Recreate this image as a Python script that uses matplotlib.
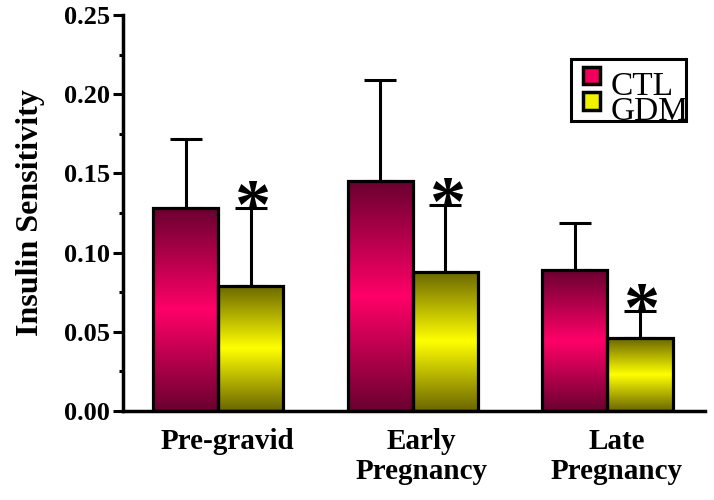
import numpy as np
import matplotlib
matplotlib.use("Agg")
import matplotlib.pyplot as plt
import matplotlib.transforms as mtransforms
from matplotlib.colors import LinearSegmentedColormap
from matplotlib.patches import Rectangle

# data
groups = ["Pre-gravid", "Early\nPregnancy", "Late\nPregnancy"]
ctl = [0.128, 0.145, 0.089]
ctl_err = [0.044, 0.064, 0.030]
gdm = [0.079, 0.088, 0.046]
gdm_err = [0.049, 0.042, 0.017]
series = ["CTL", "GDM"]

plt.rcParams['font.family'] = ['Liberation Serif', 'DejaVu Serif']

ctl_cmap = LinearSegmentedColormap.from_list("ctl", ["#6a0030", "#ff0068", "#6a0030"])
gdm_cmap = LinearSegmentedColormap.from_list("gdm", ["#6a6600", "#ffff00", "#6a6600"])

fig = plt.figure(figsize=(7.14, 5.0), dpi=100)
ax = fig.add_axes([0.172, 0.178, 0.815, 0.792])

x = np.arange(len(groups))
w = 0.335

b1 = ax.bar(x - w / 2, ctl, w, edgecolor="black", linewidth=2.3, facecolor="none", zorder=3)
b2 = ax.bar(x + w / 2, gdm, w, edgecolor="black", linewidth=2.3, facecolor="none", zorder=3)

# error bars, upper side only
ax.errorbar(x - w / 2, ctl, yerr=[np.zeros(3), ctl_err], fmt="none", ecolor="black",
            elinewidth=2.2, capsize=11.5, capthick=2.2, zorder=2)
ax.errorbar(x + w / 2, gdm, yerr=[np.zeros(3), gdm_err], fmt="none", ecolor="black",
            elinewidth=2.2, capsize=11.5, capthick=2.2, zorder=2)

# vertical gradient inside each bar
grad = np.linspace(0, 1, 256).reshape(-1, 1)
for bars, cmap in [(b1, ctl_cmap), (b2, gdm_cmap)]:
    for p in bars:
        x0, y0 = p.get_x(), p.get_y()
        im = ax.imshow(grad, cmap=cmap, aspect="auto", origin="lower",
                       extent=[x0, x0 + p.get_width(), y0, y0 + p.get_height()], zorder=2.5)
        im.set_clip_path(p)

# significance stars
for xi, v, e in zip(x + w / 2, gdm, gdm_err):
    ax.text(xi + 0.012, v + e - 0.022, "*", ha="center", va="bottom", fontsize=52,
            fontweight="bold", zorder=4)

ax.set_xlim(-0.49, 2.5)
ax.set_ylim(0, 0.25)
ax.set_yticks(np.arange(0, 0.26, 0.05))
ax.set_yticklabels(["%.2f" % t for t in np.arange(0, 0.26, 0.05)])
ax.set_yticks(np.arange(0.025, 0.25, 0.05), minor=True)
ax.tick_params(axis="y", which="major", length=7, width=2.2, labelsize=19, pad=2)
ax.tick_params(axis="y", which="minor", length=3, width=2.2)
for lab in ax.get_yticklabels():
    lab.set_fontweight("bold")

ax.set_xticks(x)
ax.set_xticklabels(groups, fontsize=21, fontweight="bold", linespacing=1.15, va="top")
ax.tick_params(axis="x", length=0, pad=12)
shift = mtransforms.ScaledTranslation(9 / 100, 0, fig.dpi_scale_trans)
for lab in ax.get_xticklabels():
    lab.set_transform(lab.get_transform() + shift)

ax.spines["top"].set_visible(False)
ax.spines["right"].set_visible(False)
ax.spines["left"].set_linewidth(2.5)
ax.spines["bottom"].set_linewidth(2.5)

ax.set_ylabel("Insulin Sensitivity", fontsize=23, fontweight="bold", labelpad=14)

# legend box drawn by hand (GDM label runs past the frame like in the original)
box = Rectangle((0.800, 0.759), 0.161, 0.124, transform=fig.transFigure,
                facecolor="white", edgecolor="black", linewidth=2.2, zorder=5)
fig.patches.append(box)
colors = ["#f0005a", "#f0f000"]
ys = [0.847, 0.796]
for name, c, yy in zip(series, colors, ys):
    fig.patches.append(Rectangle((0.817, yy - 0.015), 0.024, 0.034, transform=fig.transFigure,
                                 facecolor=c, edgecolor="black", linewidth=2.5, zorder=6))
    t = fig.text(0.855, yy - 0.037, name, fontsize=24, ha="left", va="baseline", zorder=6)
    t.set_clip_path(box)

fig.savefig("out.png", dpi=100)
